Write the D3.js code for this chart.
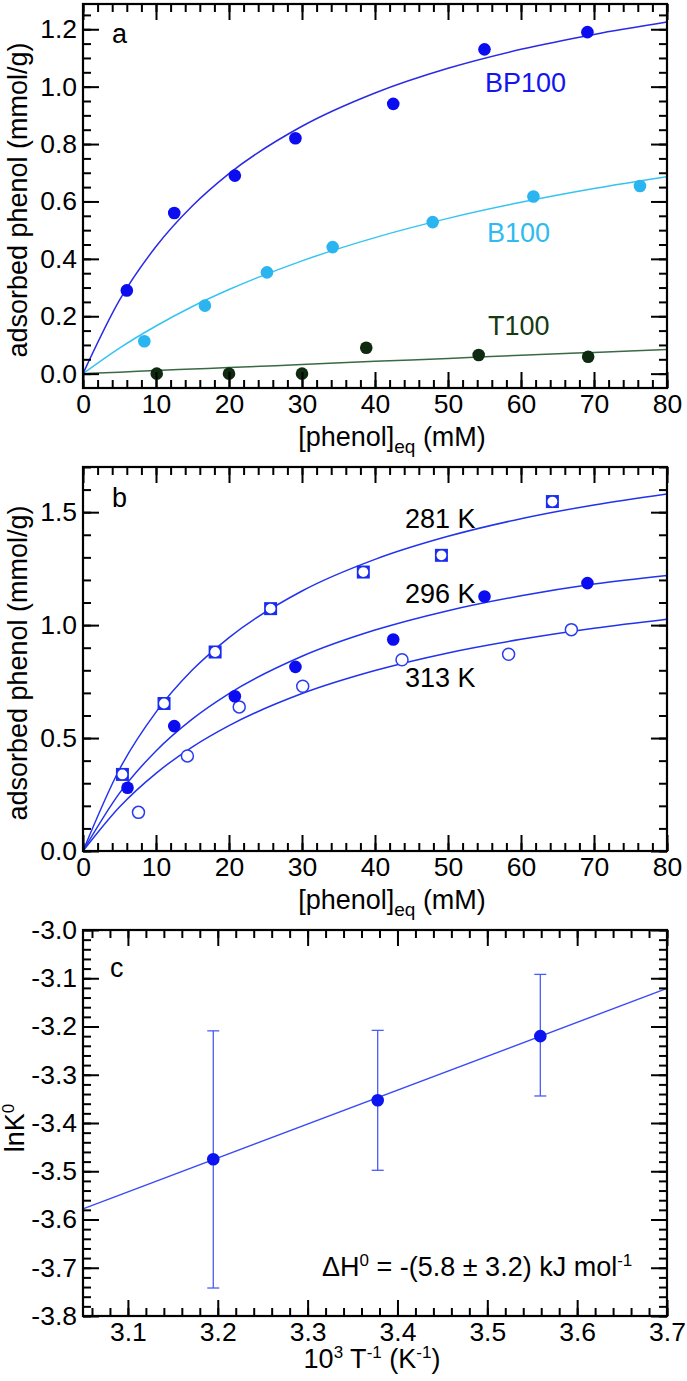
<!DOCTYPE html>
<html>
<head>
<meta charset="utf-8">
<script src="https://cdn.jsdelivr.net/npm/d3@7"></script>
<style>
  body { margin: 0; background: #fff; }
  svg { display: block; font-family: "Liberation Sans", Arial, sans-serif; }
</style>
</head>
<body>
<svg id="chart" width="687" height="1381"></svg>
<script>

/////////////////////////////////
// DATA
//////////////////////////////////

// panel a : adsorption isotherms at 296 K
var bp100X = [6.0, 12.5, 20.8, 29.1, 42.5, 55.0, 69.1];
var bp100Y = [0.29, 0.56, 0.69, 0.82, 0.94, 1.13, 1.19];
var b100X = [8.4, 16.7, 25.2, 34.2, 47.9, 61.7, 76.3];
var b100Y = [0.113, 0.237, 0.353, 0.441, 0.528, 0.617, 0.654];
var t100X = [10.1, 20.0, 30.0, 38.8, 54.2, 69.2];
var t100Y = [0.0, 0.0, 0.0, 0.090, 0.065, 0.059];

// fitted curves, sampled along x
var fitX = [0, 5, 10, 15, 20, 30, 40, 50, 60, 70, 80];
var bp100Fit = [0, 0.256, 0.443, 0.585, 0.697, 0.862, 0.978, 1.064, 1.130, 1.182, 1.225];
var b100Fit = [0, 0.089, 0.166, 0.234, 0.293, 0.393, 0.474, 0.541, 0.597, 0.645, 0.686];
var t100Fit = [0, 0.005, 0.011, 0.016, 0.021, 0.032, 0.043, 0.053, 0.064, 0.074, 0.084];

// panel b : BP100 at three temperatures
var k281X = [5.4, 11.1, 18.1, 25.7, 38.4, 49.1, 64.3];
var k281Y = [0.339, 0.653, 0.881, 1.073, 1.235, 1.309, 1.547];
var k296X = [6.1, 12.5, 20.8, 29.1, 42.5, 55.0, 69.1];
var k296Y = [0.280, 0.553, 0.685, 0.815, 0.936, 1.127, 1.186];
var k313X = [7.6, 14.3, 21.4, 30.1, 43.7, 58.3, 66.9];
var k313Y = [0.171, 0.421, 0.638, 0.729, 0.847, 0.871, 0.980];
var fit281 = [0, 0.362, 0.615, 0.802, 0.945, 1.151, 1.291, 1.393, 1.471, 1.532, 1.581];
var fit296 = [0, 0.256, 0.443, 0.585, 0.697, 0.862, 0.978, 1.064, 1.130, 1.182, 1.220];
var fit313 = [0, 0.195, 0.344, 0.461, 0.555, 0.697, 0.799, 0.877, 0.937, 0.986, 1.026];

// panel c : van 't Hoff plot
var invT = [3.195, 3.378, 3.559];
var lnK = [-3.475, -3.353, -3.220];
var lnKLow = [-3.742, -3.498, -3.344];
var lnKHigh = [-3.209, -3.208, -3.092];
var lnKFitX = [3.05, 3.70];
var lnKFitY = [-3.578, -3.121];

// tick labels
var phenolTicks = [0, 10, 20, 30, 40, 50, 60, 70, 80];
var adsATicks = [0.0, 0.2, 0.4, 0.6, 0.8, 1.0, 1.2];
var adsBTicks = [0.0, 0.5, 1.0, 1.5];
var invTTicks = [3.1, 3.2, 3.3, 3.4, 3.5, 3.6, 3.7];
var lnKTicks = [-3.0, -3.1, -3.2, -3.3, -3.4, -3.5, -3.6, -3.7, -3.8];


/////////////////////////////////
// SET UP
//////////////////////////////////

var FONT = '"Liberation Sans", Arial, sans-serif';
var svg = d3.select("#chart");
svg.append("rect").attr("width", 687).attr("height", 1381).attr("fill", "#fff");

var plotLeft = 83;
var plotWidth = 584;

function makePanel(top, height, xDomain, yDomain) {
  var g = svg.append("g").attr("transform", "translate(" + plotLeft + "," + top + ")");
  var x = d3.scaleLinear().domain(xDomain).range([0, plotWidth]);
  var y = d3.scaleLinear().domain(yDomain).range([height, 0]);
  return {g: g, x: x, y: y, h: height, top: top};
}

// ticks point inward on all four sides, labels only bottom + left
function drawAxes(p, xMajor, xMinor, yMajor, yMinor, xFmt, yFmt) {
  var g = p.g.append("g");
  var bottom = "translate(0," + p.h + ")";
  var right = "translate(" + plotWidth + ",0)";

  g.append("g").attr("transform", bottom)
    .call(d3.axisBottom(p.x).tickValues(xMinor).tickSize(-8).tickFormat(""));
  g.append("g").attr("transform", bottom)
    .call(d3.axisBottom(p.x).tickValues(xMajor).tickSize(-16).tickPadding(6).tickFormat(xFmt));
  g.append("g")
    .call(d3.axisTop(p.x).tickValues(xMinor).tickSize(-8).tickFormat(""));
  g.append("g")
    .call(d3.axisTop(p.x).tickValues(xMajor).tickSize(-16).tickFormat(""));

  g.append("g")
    .call(d3.axisLeft(p.y).tickValues(yMinor).tickSize(-8).tickFormat(""));
  g.append("g")
    .call(d3.axisLeft(p.y).tickValues(yMajor).tickSize(-16).tickPadding(6).tickFormat(yFmt));
  g.append("g").attr("transform", right)
    .call(d3.axisRight(p.y).tickValues(yMinor).tickSize(-8).tickFormat(""));
  g.append("g").attr("transform", right)
    .call(d3.axisRight(p.y).tickValues(yMajor).tickSize(-16).tickFormat(""));

  g.selectAll(".domain").remove();
  g.selectAll(".tick line").attr("stroke", "#000").attr("stroke-width", 2);
  g.selectAll(".tick text")
    .attr("fill", "#000")
    .style("font-size", "26.5px")
    .style("font-family", FONT);

  p.g.append("rect")
    .attr("width", plotWidth)
    .attr("height", p.h)
    .attr("fill", "none")
    .attr("stroke", "#000")
    .attr("stroke-width", 2.2);
}

function fitLine(p, xs, ys, color, width) {
  var line = d3.line()
    .x(function(d) { return p.x(d[0]); })
    .y(function(d) { return p.y(d[1]); })
    .curve(d3.curveMonotoneX);
  p.g.append("path")
    .datum(d3.zip(xs, ys))
    .attr("d", line)
    .attr("fill", "none")
    .attr("stroke", color)
    .attr("stroke-width", width);
}

function dots(p, xs, ys, fill, stroke) {
  p.g.append("g").selectAll("circle")
    .data(d3.zip(xs, ys))
    .enter()
    .append("circle")
      .attr("cx", function(d) { return p.x(d[0]); })
      .attr("cy", function(d) { return p.y(d[1]); })
      .attr("r", stroke ? 6 : 6.3)
      .attr("fill", fill)
      .attr("stroke", stroke || "none")
      .attr("stroke-width", 1.5);
}

function label(x, y, txt, color, anchor) {
  return svg.append("text")
    .attr("x", x)
    .attr("y", y)
    .attr("fill", color || "#000")
    .attr("text-anchor", anchor || "start")
    .style("font-size", "27px")
    .style("font-family", FONT)
    .text(txt);
}

function yTitle(p, xPos, yShift) {
  return svg.append("text")
    .attr("transform", "translate(" + xPos + "," + (p.top + p.h / 2 + yShift) + ") rotate(-90)")
    .attr("text-anchor", "middle")
    .attr("fill", "#000")
    .style("font-size", "27px")
    .style("font-family", FONT);
}

function phenolTitle(baseline) {
  var t = label(392, baseline, "", "#000", "middle");
  t.append("tspan").text("[phenol]");
  t.append("tspan").attr("dy", 7).style("font-size", "19px").text("eq");
  t.append("tspan").attr("dy", -7).text(" (mM)");
}

var fmt0 = function(d) { return d3.format("d")(d); };
var fmt1 = function(d) { return d.toFixed(1); };


/////////////////////////////////
// PANEL A
//////////////////////////////////

var pa = makePanel(4, 384, [0, 80], [-0.05, 1.288]);

fitLine(pa, fitX, t100Fit, "#3a6a45", 1.5);
fitLine(pa, fitX, b100Fit, "#35c4f2", 1.5);
fitLine(pa, fitX, bp100Fit, "#2a2ae6", 1.5);

dots(pa, t100X, t100Y, "#0e2a10");
dots(pa, b100X, b100Y, "#2ab4f0");
dots(pa, bp100X, bp100Y, "#0c0cf0");

drawAxes(pa, phenolTicks, d3.range(0, 81, 2), adsATicks, d3.range(0, 26).map(function(i) { return i * 0.05; }), fmt0, fmt1);

label(112, 43, "a");
label(485, 92, "BP100", "#1414ee");
label(487, 242, "B100", "#30bbee");
label(488, 335, "T100", "#163a12");

yTitle(pa, 27, 4).text("adsorbed phenol (mmol/g)");
phenolTitle(446);


/////////////////////////////////
// PANEL B
//////////////////////////////////

var pb = makePanel(467, 384, [0, 80], [0, 1.7]);

fitLine(pb, fitX, fit313, "#2233ee", 1.5);
fitLine(pb, fitX, fit296, "#2233ee", 1.5);
fitLine(pb, fitX, fit281, "#2233ee", 1.5);

dots(pb, k313X, k313Y, "#fff", "#2a3cf0");
dots(pb, k296X, k296Y, "#0c0cf0");

// open squares (square outline round a white disc)
var sq = pb.g.append("g").selectAll("g")
  .data(d3.zip(k281X, k281Y))
  .enter()
  .append("g")
    .attr("transform", function(d) { return "translate(" + pb.x(d[0]) + "," + pb.y(d[1]) + ")"; });
sq.append("rect")
  .attr("x", -6.5).attr("y", -6.5)
  .attr("width", 13).attr("height", 13)
  .attr("fill", "#1a2cf0");
sq.append("circle")
  .attr("r", 4.9)
  .attr("fill", "#fff");

drawAxes(pb, phenolTicks, d3.range(0, 81, 2), adsBTicks, d3.range(0, 18).map(function(i) { return i / 10; }), fmt0, fmt1);

label(112, 507, "b");
label(405, 528, "281 K");
label(405, 603, "296 K");
label(405, 687, "313 K");

yTitle(pb, 27, 4).text("adsorbed phenol (mmol/g)");
phenolTitle(909);


/////////////////////////////////
// PANEL C
//////////////////////////////////

var pc = makePanel(930, 386, [3.05, 3.7], [-3.8, -3.0]);

fitLine(pc, lnKFitX, lnKFitY, "#3a4cf5", 1.4);

var bars = pc.g.append("g")
  .attr("stroke", "#4a5cf5")
  .attr("stroke-width", 1.3);
invT.forEach(function(t, i) {
  var cx = pc.x(t);
  bars.append("line").attr("x1", cx).attr("x2", cx).attr("y1", pc.y(lnKLow[i])).attr("y2", pc.y(lnKHigh[i]));
  bars.append("line").attr("x1", cx - 6).attr("x2", cx + 6).attr("y1", pc.y(lnKLow[i])).attr("y2", pc.y(lnKLow[i]));
  bars.append("line").attr("x1", cx - 6).attr("x2", cx + 6).attr("y1", pc.y(lnKHigh[i])).attr("y2", pc.y(lnKHigh[i]));
});

dots(pc, invT, lnK, "#0c14f0");

drawAxes(pc, invTTicks, d3.range(153, 186).map(function(i) { return i / 50; }), lnKTicks, d3.range(150, 191).map(function(i) { return -i / 50; }), fmt1, fmt1);

label(110, 977, "c");

var dh = label(322, 1276, "");
dh.append("tspan").text("\u0394H");
dh.append("tspan").attr("dy", -10).style("font-size", "17px").text("0");
dh.append("tspan").attr("dy", 10).text(" = -(5.8 \u00b1 3.2) kJ mol");
dh.append("tspan").attr("dy", -10).style("font-size", "17px").text("-1");

var lk = yTitle(pc, 24, 5);
lk.append("tspan").text("lnK");
lk.append("tspan").attr("dy", -10).style("font-size", "17px").text("0");

var xt = label(372, 1368, "", "#000", "middle");
xt.append("tspan").text("10");
xt.append("tspan").attr("dy", -10).style("font-size", "17px").text("3");
xt.append("tspan").attr("dy", 10).text(" T");
xt.append("tspan").attr("dy", -10).style("font-size", "17px").text("-1");
xt.append("tspan").attr("dy", 10).text(" (K");
xt.append("tspan").attr("dy", -10).style("font-size", "17px").text("-1");
xt.append("tspan").attr("dy", 10).text(")");

</script>
</body>
</html>
